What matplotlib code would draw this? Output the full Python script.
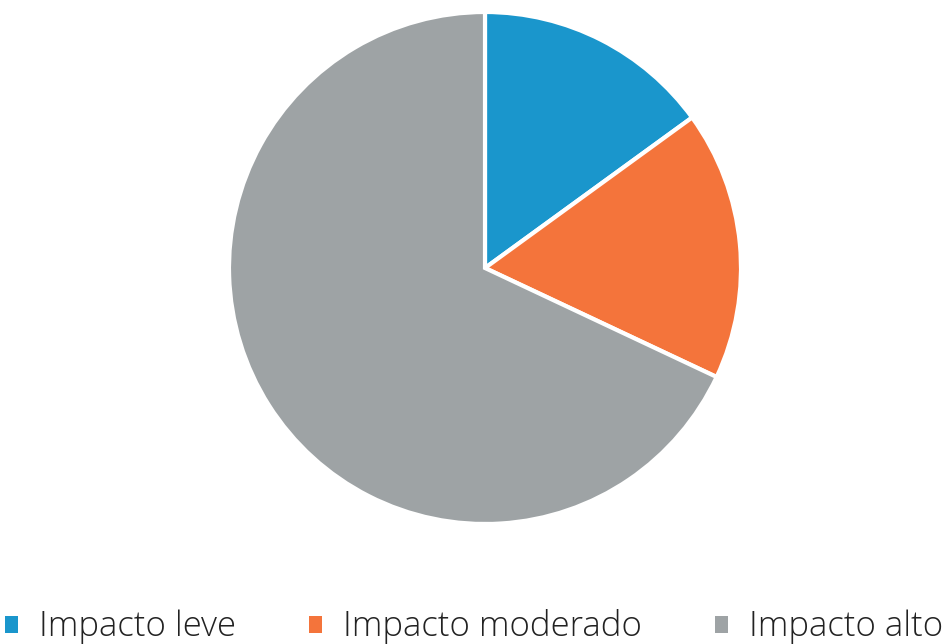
import matplotlib
matplotlib.use("Agg")
import matplotlib.pyplot as plt
from matplotlib.patches import Patch

labels = ["Impacto leve", "Impacto moderado", "Impacto alto"]
values = [15, 17, 68]
colors = ["#1a96cc", "#f4743b", "#9ea3a5"]

W, H = 948, 644
fig = plt.figure(figsize=(W/100, H/100), dpi=100)
cx, cy, r = 485, 268, 256
ax = fig.add_axes([(cx-r)/W, (H-cy-r)/H, 2*r/W, 2*r/H])
ax.pie(values, colors=colors, startangle=90, counterclock=False,
       wedgeprops=dict(edgecolor="white", linewidth=3), radius=1)
ax.set_xlim(-1.0, 1.0)
ax.set_ylim(-1.0, 1.0)
ax.set_aspect("equal")
ax.axis("off")

handles = [Patch(facecolor=c, edgecolor="none") for c in colors]
leg = fig.legend(handles, labels, loc="center", bbox_to_anchor=(0.5, 1-627/H),
                 ncol=3, frameon=False,
                 prop=dict(family="Open Sans", size=25, weight="light"),
                 handlelength=0.38, handleheight=0.38, handletextpad=0.6,
                 columnspacing=2.1, labelcolor="#222222")
fig.savefig("out.png", dpi=100)
